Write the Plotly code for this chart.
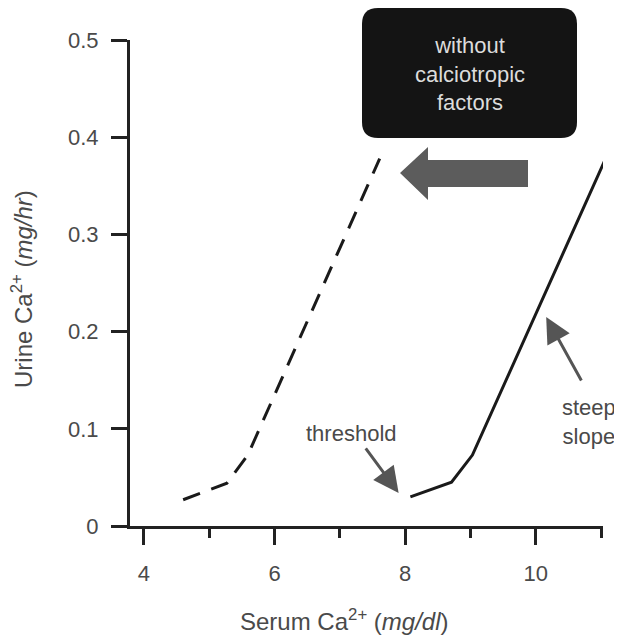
import plotly.graph_objects as go

# ---- data ----
serum_without = [4.60, 5.27, 5.59, 7.61]          # dashed curve (without calciotropic factors)
urine_without = [0.027, 0.044, 0.073, 0.378]
serum_normal = [8.08, 8.71, 9.03, 11.09]          # solid curve
urine_normal = [0.030, 0.045, 0.073, 0.381]
x_major_ticks = [4, 6, 8, 10]
x_minor_ticks = [5, 7, 9, 11]
y_ticks = [0, 0.1, 0.2, 0.3, 0.4, 0.5]
y_tick_labels = ["0", "0.1", "0.2", "0.3", "0.4", "0.5"]
x_title = "Serum Ca<sup>2+</sup> (<i>mg/dl</i>)"
y_title = "Urine Ca<sup>2+</sup> (<i>mg/hr</i>)"

FONT = "Liberation Sans, Arial, Helvetica, sans-serif"
TXT = "#4a4a4a"
AX = "#222222"

# page offset of the figure inside the browser (body margin)
OFF = 8
FIG_W, FIG_H = 622 - OFF, 635 - OFF
# plot-area geometry in reference-picture pixels
L, T, W, H = 130, 40, 473, 486
def px(x):
    return (x - L) / W
def py(y):
    return (T + H - y) / H

fig = go.Figure()
fig.add_trace(go.Scatter(x=serum_without, y=urine_without, mode="lines",
                         line=dict(color="#1a1a1a", width=3, dash="18px,12px"),
                         showlegend=False, hoverinfo="skip"))
fig.add_trace(go.Scatter(x=serum_normal, y=urine_normal, mode="lines",
                         line=dict(color="#1a1a1a", width=3),
                         showlegend=False, hoverinfo="skip"))

# rounded black box
x0, x1, y0, y1, r = 362, 577, 8, 138, 16
path = (f"M {px(x0+r)},{py(y0)} L {px(x1-r)},{py(y0)} "
        f"Q {px(x1)},{py(y0)} {px(x1)},{py(y0+r)} L {px(x1)},{py(y1-r)} "
        f"Q {px(x1)},{py(y1)} {px(x1-r)},{py(y1)} L {px(x0+r)},{py(y1)} "
        f"Q {px(x0)},{py(y1)} {px(x0)},{py(y1-r)} L {px(x0)},{py(y0+r)} "
        f"Q {px(x0)},{py(y0)} {px(x0+r)},{py(y0)} Z")
shapes = [dict(type="path", xref="paper", yref="paper", path=path,
               fillcolor="#141414", line=dict(width=0), layer="above")]

# big gray arrow pointing left
pts = [(400, 173), (428, 147), (428, 160), (528, 160), (528, 187), (428, 187), (428, 200)]
apath = "M " + " L ".join(f"{px(a)},{py(b)}" for a, b in pts) + " Z"
shapes.append(dict(type="path", xref="paper", yref="paper", path=apath,
                   fillcolor="#5c5c5c", line=dict(width=0), layer="above"))

annotations = [
    dict(xref="paper", yref="paper", x=px(470), y=py(74),
         xanchor="center", yanchor="middle",
         text="without<br>calciotropic<br>factors", showarrow=False,
         font=dict(family=FONT, size=22, color="#dcdcdc"), align="center"),
    dict(x=7.18, y=0.095, xanchor="center", yanchor="middle",
         text="threshold", showarrow=False,
         font=dict(family=FONT, size=22, color=TXT)),
    dict(x=10.82, y=0.107, xanchor="center", yanchor="middle",
         text="steep<br>slope", showarrow=False,
         font=dict(family=FONT, size=22, color=TXT), align="center"),
    dict(x=7.90, y=0.034, ax=-34, ay=-46, text="", showarrow=True,
         arrowhead=2, arrowsize=1.7, arrowwidth=3, arrowcolor="#555555"),
    dict(x=10.16, y=0.215, ax=36, ay=65, text="", showarrow=True,
         arrowhead=2, arrowsize=1.7, arrowwidth=3, arrowcolor="#555555"),
    # axis titles
    dict(xref="paper", yref="paper", x=px(344), y=py(620),
         xanchor="center", yanchor="middle", text=x_title, showarrow=False,
         font=dict(family=FONT, size=24, color=TXT)),
    dict(xref="paper", yref="paper", x=px(22), y=py(289),
         xanchor="center", yanchor="middle", text=y_title, showarrow=False,
         textangle=-90, font=dict(family=FONT, size=24, color=TXT)),
]

fig.update_layout(
    width=FIG_W, height=FIG_H,
    margin=dict(l=L - OFF, r=622 - L - W, t=T - OFF, b=635 - T - H),
    paper_bgcolor="white", plot_bgcolor="white",
    font=dict(family=FONT, color=TXT, size=22),
    shapes=shapes, annotations=annotations,
    xaxis=dict(range=[3.786, 11.03], showgrid=False, zeroline=False,
               automargin=False,
               showline=True, linecolor=AX, linewidth=3,
               tickmode="array", tickvals=x_major_ticks,
               ticks="outside", ticklen=16, tickwidth=3, tickcolor=AX,
               ticklabelstandoff=10,
               tickfont=dict(size=22, color=TXT),
               minor=dict(tickmode="array", tickvals=x_minor_ticks,
                          ticks="outside", ticklen=9, tickwidth=3, tickcolor=AX)),
    yaxis=dict(range=[0, 0.5], showgrid=False, zeroline=False,
               automargin=False,
               showline=True, linecolor=AX, linewidth=3,
               tickmode="array", tickvals=y_ticks, ticktext=y_tick_labels,
               ticks="outside", ticklen=16, tickwidth=3, tickcolor=AX,
               ticklabelstandoff=8,
               tickfont=dict(size=22, color=TXT)),
)

fig.write_html("out.html")
